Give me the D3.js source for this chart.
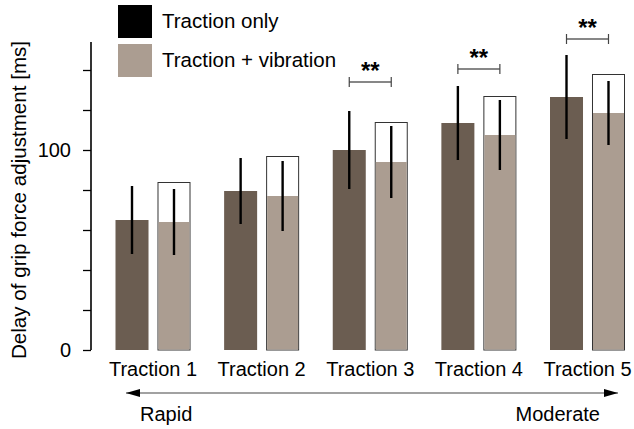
<!DOCTYPE html>
<html>
<head>
<meta charset="utf-8">
<script src="https://cdn.jsdelivr.net/npm/d3@7"></script>
<style>
  html, body { margin: 0; padding: 0; background: #fff; }
  svg { display: block; font-family: "Liberation Sans", Arial, sans-serif; }
</style>
</head>
<body>
<svg id="chart" width="634" height="429"></svg>
<script>
const categories = ["Traction 1", "Traction 2", "Traction 3", "Traction 4", "Traction 5"];
const seriesNames = ["Traction only", "Traction + vibration"];
const tractionOnly = [65, 79.5, 100, 113.5, 126.5];
const tractionOnlySD = [17, 16.5, 19.5, 18.5, 21];
const tractionVibration = [64, 77, 94, 107.5, 118.5];
const tractionVibrationSD = [16.5, 17.5, 18, 17.5, 16];
const outlineValues = [84, 97, 114, 127, 138];
const sigCategories = ["Traction 3", "Traction 4", "Traction 5"];
const sigLevels = [134, 140.5, 155.5];
const sigLabels = ["**", "**", "**"];
const yTickValues = [0, 20, 40, 60, 80, 100, 120, 140];
const yTickLabels = {0: "0", 100: "100"};
const directionLabels = ["Rapid", "Moderate"];

const colDark = "#6b5d51";
const colLight = "#ab9d91";
const FS = 20;

const svg = d3.select("#chart");
const x = d3.scalePoint().domain(categories).range([153, 587.5]);
const xs = d3.scaleBand().domain(seriesNames).range([-37.5, 37.5]).paddingInner(0.214);
const y = d3.scaleLinear().domain([0, 154]).range([350, 42]);
const bw = xs.bandwidth();

// y axis
const yAxis = d3.axisLeft(y).tickValues(yTickValues).tickSize(8)
  .tickFormat(d => yTickLabels[d] || "");
const gy = svg.append("g").attr("transform", "translate(91,0)").call(yAxis);
gy.select(".domain").attr("stroke", "#000").attr("stroke-width", 1.6).attr("d", `M0,${y(0)}V${y(154)}`);
gy.selectAll(".tick line").attr("stroke", "#000").attr("stroke-width", 1.3);
gy.selectAll(".tick text").attr("font-size", FS).attr("fill", "#000").attr("x", -20)
  .attr("font-family", "'Liberation Sans', Arial, sans-serif");

svg.append("text")
  .attr("transform", `translate(26,200) rotate(-90)`)
  .attr("text-anchor", "middle")
  .attr("font-size", 20.6)
  .text("Delay of grip force adjustment [ms]");

const groups = svg.append("g").selectAll("g").data(categories).join("g")
  .attr("transform", d => `translate(${x(d)},0)`);

// dark bars
groups.append("rect")
  .attr("x", xs(seriesNames[0])).attr("width", bw)
  .attr("y", (d, i) => y(tractionOnly[i]))
  .attr("height", (d, i) => y(0) - y(tractionOnly[i]))
  .attr("fill", colDark);

// outline boxes
groups.append("rect")
  .attr("x", xs(seriesNames[1]) + 0.5).attr("width", bw - 1)
  .attr("y", (d, i) => y(outlineValues[i]) + 0.5)
  .attr("height", (d, i) => y(0) - y(outlineValues[i]) - 0.5)
  .attr("fill", "#fff").attr("stroke", "#333").attr("stroke-width", 1);

// light fill
groups.append("rect")
  .attr("x", xs(seriesNames[1]) + 1).attr("width", bw - 2)
  .attr("y", (d, i) => y(tractionVibration[i]))
  .attr("height", (d, i) => y(0) - y(tractionVibration[i]) - 0.5)
  .attr("fill", colLight);

// error bars
groups.append("line")
  .attr("x1", xs(seriesNames[0]) + bw / 2).attr("x2", xs(seriesNames[0]) + bw / 2)
  .attr("y1", (d, i) => y(tractionOnly[i] + tractionOnlySD[i]))
  .attr("y2", (d, i) => y(tractionOnly[i] - tractionOnlySD[i]))
  .attr("stroke", "#000").attr("stroke-width", 2.4);
groups.append("line")
  .attr("x1", xs(seriesNames[1]) + bw / 2).attr("x2", xs(seriesNames[1]) + bw / 2)
  .attr("y1", (d, i) => y(tractionVibration[i] + tractionVibrationSD[i]))
  .attr("y2", (d, i) => y(tractionVibration[i] - tractionVibrationSD[i]))
  .attr("stroke", "#000").attr("stroke-width", 2.4);

// significance brackets
const sig = svg.append("g").selectAll("g").data(sigCategories).join("g")
  .attr("transform", (d, i) => `translate(${x(d)},${y(sigLevels[i])})`);
const x1 = xs(seriesNames[0]) + bw / 2, x2 = xs(seriesNames[1]) + bw / 2;
sig.append("line").attr("x1", x1).attr("x2", x2).attr("y1", 0).attr("y2", 0)
  .attr("stroke", "#111").attr("stroke-width", 1.2);
sig.append("line").attr("x1", x1).attr("x2", x1).attr("y1", -5).attr("y2", 5)
  .attr("stroke", "#444").attr("stroke-width", 1.2);
sig.append("line").attr("x1", x2).attr("x2", x2).attr("y1", -5).attr("y2", 5)
  .attr("stroke", "#444").attr("stroke-width", 1.2);
sig.append("text").attr("x", (x1 + x2) / 2).attr("y", -3)
  .attr("text-anchor", "middle").attr("font-size", 24).attr("font-weight", "bold")
  .text((d, i) => sigLabels[i]);

// category labels
svg.append("g").selectAll("text").data(categories).join("text")
  .attr("x", d => x(d)).attr("y", 376)
  .attr("text-anchor", "middle").attr("font-size", FS)
  .text(d => d);

// direction arrow
svg.append("defs").append("marker")
  .attr("id", "ah").attr("viewBox", "0 0 14 8").attr("refX", 14).attr("refY", 4)
  .attr("markerWidth", 14).attr("markerHeight", 8).attr("markerUnits", "userSpaceOnUse")
  .attr("orient", "auto-start-reverse")
  .append("path").attr("d", "M0,0L14,4L0,8Z").attr("fill", "#000");
svg.append("line").attr("x1", 126).attr("x2", 618).attr("y1", 393).attr("y2", 393)
  .attr("stroke", "#444").attr("stroke-width", 1.2)
  .attr("marker-start", "url(#ah)").attr("marker-end", "url(#ah)");
svg.append("text").attr("x", 140).attr("y", 421).attr("font-size", FS).text(directionLabels[0]);
svg.append("text").attr("x", 600).attr("y", 421).attr("text-anchor", "end").attr("font-size", FS).text(directionLabels[1]);

// legend
const legend = svg.append("g").selectAll("g").data(seriesNames).join("g")
  .attr("transform", (d, i) => `translate(118,${5 + i * 39})`);
legend.append("rect").attr("width", 34).attr("height", 33)
  .attr("fill", (d, i) => i === 0 ? "#000" : colLight);
legend.append("text").attr("x", 44).attr("y", 23).attr("font-size", 20.5).text(d => d);
</script>
</body>
</html>
